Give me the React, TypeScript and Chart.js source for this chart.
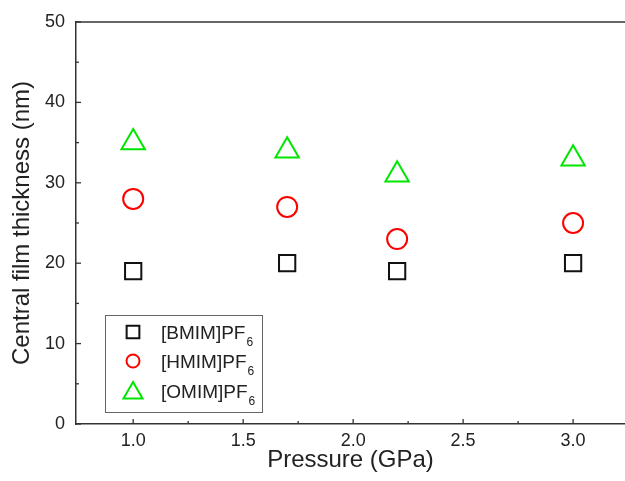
import React, { useEffect, useRef } from "react";
import { Chart, registerables } from "chart.js";

Chart.register(...registerables);

// ---- data ----
const pressures = [1.0, 1.7, 2.2, 3.0];
const bmimThickness = [19, 20, 19, 20];
const hmimThickness = [28, 27, 23, 25];
const omimThickness = [35, 34, 31, 33];

const seriesBase = ["[BMIM]PF", "[HMIM]PF", "[OMIM]PF"];
const seriesSub = ["6", "6", "6"];

const xTickValues = [1.0, 1.25, 1.5, 1.75, 2.0, 2.25, 2.5, 2.75, 3.0];
const yTickValues = [0, 5, 10, 15, 20, 25, 30, 35, 40, 45, 50];

const xTitle = "Pressure (GPa)";
const yTitle = "Central film thickness (nm)";

const FONT = "'Liberation Sans', Arial, sans-serif";
const AXIS_COLOR = "#333";
const TEXT_COLOR = "#222";
const COLORS = ["#111111", "#ff0000", "#00e600"];
const STYLES = ["rect", "circle", "triangle"];

function drawMarker(ctx: CanvasRenderingContext2D, style: string, x: number, y: number, r: number) {
  ctx.beginPath();
  if (style === "rect") {
    const s = r * Math.SQRT1_2;
    ctx.rect(x - s, y - s, 2 * s, 2 * s);
  } else if (style === "circle") {
    ctx.arc(x, y, r, 0, Math.PI * 2);
  } else {
    const h = r * 1.5;
    const w = r * Math.sqrt(3);
    ctx.moveTo(x, y - r);
    ctx.lineTo(x + w / 2, y - r + h);
    ctx.lineTo(x - w / 2, y - r + h);
    ctx.closePath();
  }
  ctx.stroke();
}

const framePlugin = {
  id: "frame",
  afterDraw(chart: any) {
    const { ctx, chartArea } = chart;
    const { left, top, right, bottom } = chartArea;
    const xs = chart.scales.x;
    const ys = chart.scales.y;
    ctx.save();
    ctx.strokeStyle = AXIS_COLOR;
    ctx.lineWidth = 1.5;
    // top spine
    ctx.beginPath();
    ctx.moveTo(left, top);
    ctx.lineTo(right, top);
    ctx.stroke();
    // inward ticks
    ctx.lineWidth = 1.3;
    xs.ticks.forEach((t: any) => {
      const px = xs.getPixelForValue(t.value);
      const major = Math.abs(t.value * 2 - Math.round(t.value * 2)) < 1e-6;
      const len = major ? 5 : 3;
      ctx.beginPath();
      ctx.moveTo(px, bottom);
      ctx.lineTo(px, bottom - len);
      ctx.stroke();
    });
    ys.ticks.forEach((t: any) => {
      const py = ys.getPixelForValue(t.value);
      const major = t.value % 10 === 0;
      const len = major ? 5 : 3;
      ctx.beginPath();
      ctx.moveTo(left, py);
      ctx.lineTo(left + len, py);
      ctx.stroke();
    });

    // legend
    const bx = left + 29;
    const by = top + 293;
    const bw = 157;
    const bh = 97;
    ctx.strokeStyle = "#666";
    ctx.lineWidth = 1;
    ctx.strokeRect(bx + 0.5, by + 0.5, bw, bh);
    const rowY = [by + 17, by + 46, by + 76];
    const markerR = [9, 6.5, 11];
    chart.data.datasets.forEach((ds: any, i: number) => {
      ctx.strokeStyle = COLORS[i];
      ctx.lineWidth = 2;
      const my = STYLES[i] === "triangle" ? rowY[i] + 2 : rowY[i];
      drawMarker(ctx, STYLES[i], bx + 28, my, markerR[i]);
      ctx.fillStyle = TEXT_COLOR;
      ctx.textBaseline = "alphabetic";
      ctx.textAlign = "left";
      ctx.font = `19px ${FONT}`;
      const tx = bx + 56;
      ctx.fillText(seriesBase[i], tx, rowY[i] + 7);
      const w = ctx.measureText(seriesBase[i]).width;
      ctx.font = `12px ${FONT}`;
      ctx.fillText(seriesSub[i], tx + w + 1, rowY[i] + 14);
    });
    ctx.restore();
  },
};

export default function App() {
  const canvasRef = useRef<HTMLCanvasElement | null>(null);

  useEffect(() => {
    if (!canvasRef.current) return;
    const seriesValues = [bmimThickness, hmimThickness, omimThickness];
    const radii = [11.5, 10, 13.5];
    const chart = new Chart(canvasRef.current, {
      type: "scatter",
      data: {
        datasets: seriesValues.map((vals, i) => ({
          label: seriesBase[i] + seriesSub[i],
          data: pressures.map((p, j) => ({ x: p, y: vals[j] })),
          pointStyle: STYLES[i] as any,
          pointRadius: radii[i],
          pointHoverRadius: radii[i],
          pointBorderWidth: 2,
          borderColor: COLORS[i],
          pointBorderColor: COLORS[i],
          pointBackgroundColor: "rgba(0,0,0,0)",
          backgroundColor: "rgba(0,0,0,0)",
          showLine: false,
        })),
      },
      options: {
        animation: false,
        responsive: false,
        events: [],
        layout: { autoPadding: false, padding: { top: 22, right: 0, left: 0, bottom: 0 } },
        plugins: {
          legend: { display: false },
          tooltip: { enabled: false },
        },
        scales: {
          x: {
            type: "linear",
            min: 0.74,
            max: 3.236,
            afterBuildTicks: (axis: any) => {
              axis.ticks = xTickValues.map((v) => ({ value: v }));
            },
            afterFit: (s: any) => {
              s.height = 57;
              s.paddingLeft = 0;
              s.paddingRight = 0;
            },
            grid: { display: false, drawTicks: false },
            border: { display: true, color: AXIS_COLOR, width: 1.5 },
            ticks: {
              autoSkip: false,
              maxRotation: 0,
              padding: 6,
              color: TEXT_COLOR,
              font: { family: FONT, size: 18 },
              callback: (v: any) => {
                const n = Number(v);
                return Math.abs(n * 2 - Math.round(n * 2)) < 1e-6 ? n.toFixed(1) : "";
              },
            },
            title: {
              display: true,
              text: xTitle,
              color: TEXT_COLOR,
              font: { family: FONT, size: 24 },
              padding: { top: 0, bottom: 6 },
            },
          },
          y: {
            type: "linear",
            min: 0,
            max: 50,
            afterBuildTicks: (axis: any) => {
              axis.ticks = yTickValues.map((v) => ({ value: v }));
            },
            afterFit: (s: any) => {
              s.width = 76;
              s.paddingTop = 0;
              s.paddingBottom = 0;
            },
            grid: { display: false, drawTicks: false },
            border: { display: true, color: AXIS_COLOR, width: 1.5 },
            ticks: {
              autoSkip: false,
              padding: 11,
              color: TEXT_COLOR,
              font: { family: FONT, size: 18 },
              callback: (v: any) => (Number(v) % 10 === 0 ? String(v) : ""),
            },
            title: {
              display: true,
              text: yTitle,
              color: TEXT_COLOR,
              font: { family: FONT, size: 24 },
              padding: { top: 8, bottom: 0 },
            },
          },
        },
      },
      plugins: [framePlugin],
    });
    return () => chart.destroy();
  }, []);

  return (
    <canvas
      ref={canvasRef}
      width={625}
      height={481}
      style={{ position: "absolute", left: 0, top: 0, width: 625, height: 481, background: "#fff" }}
    />
  );
}
